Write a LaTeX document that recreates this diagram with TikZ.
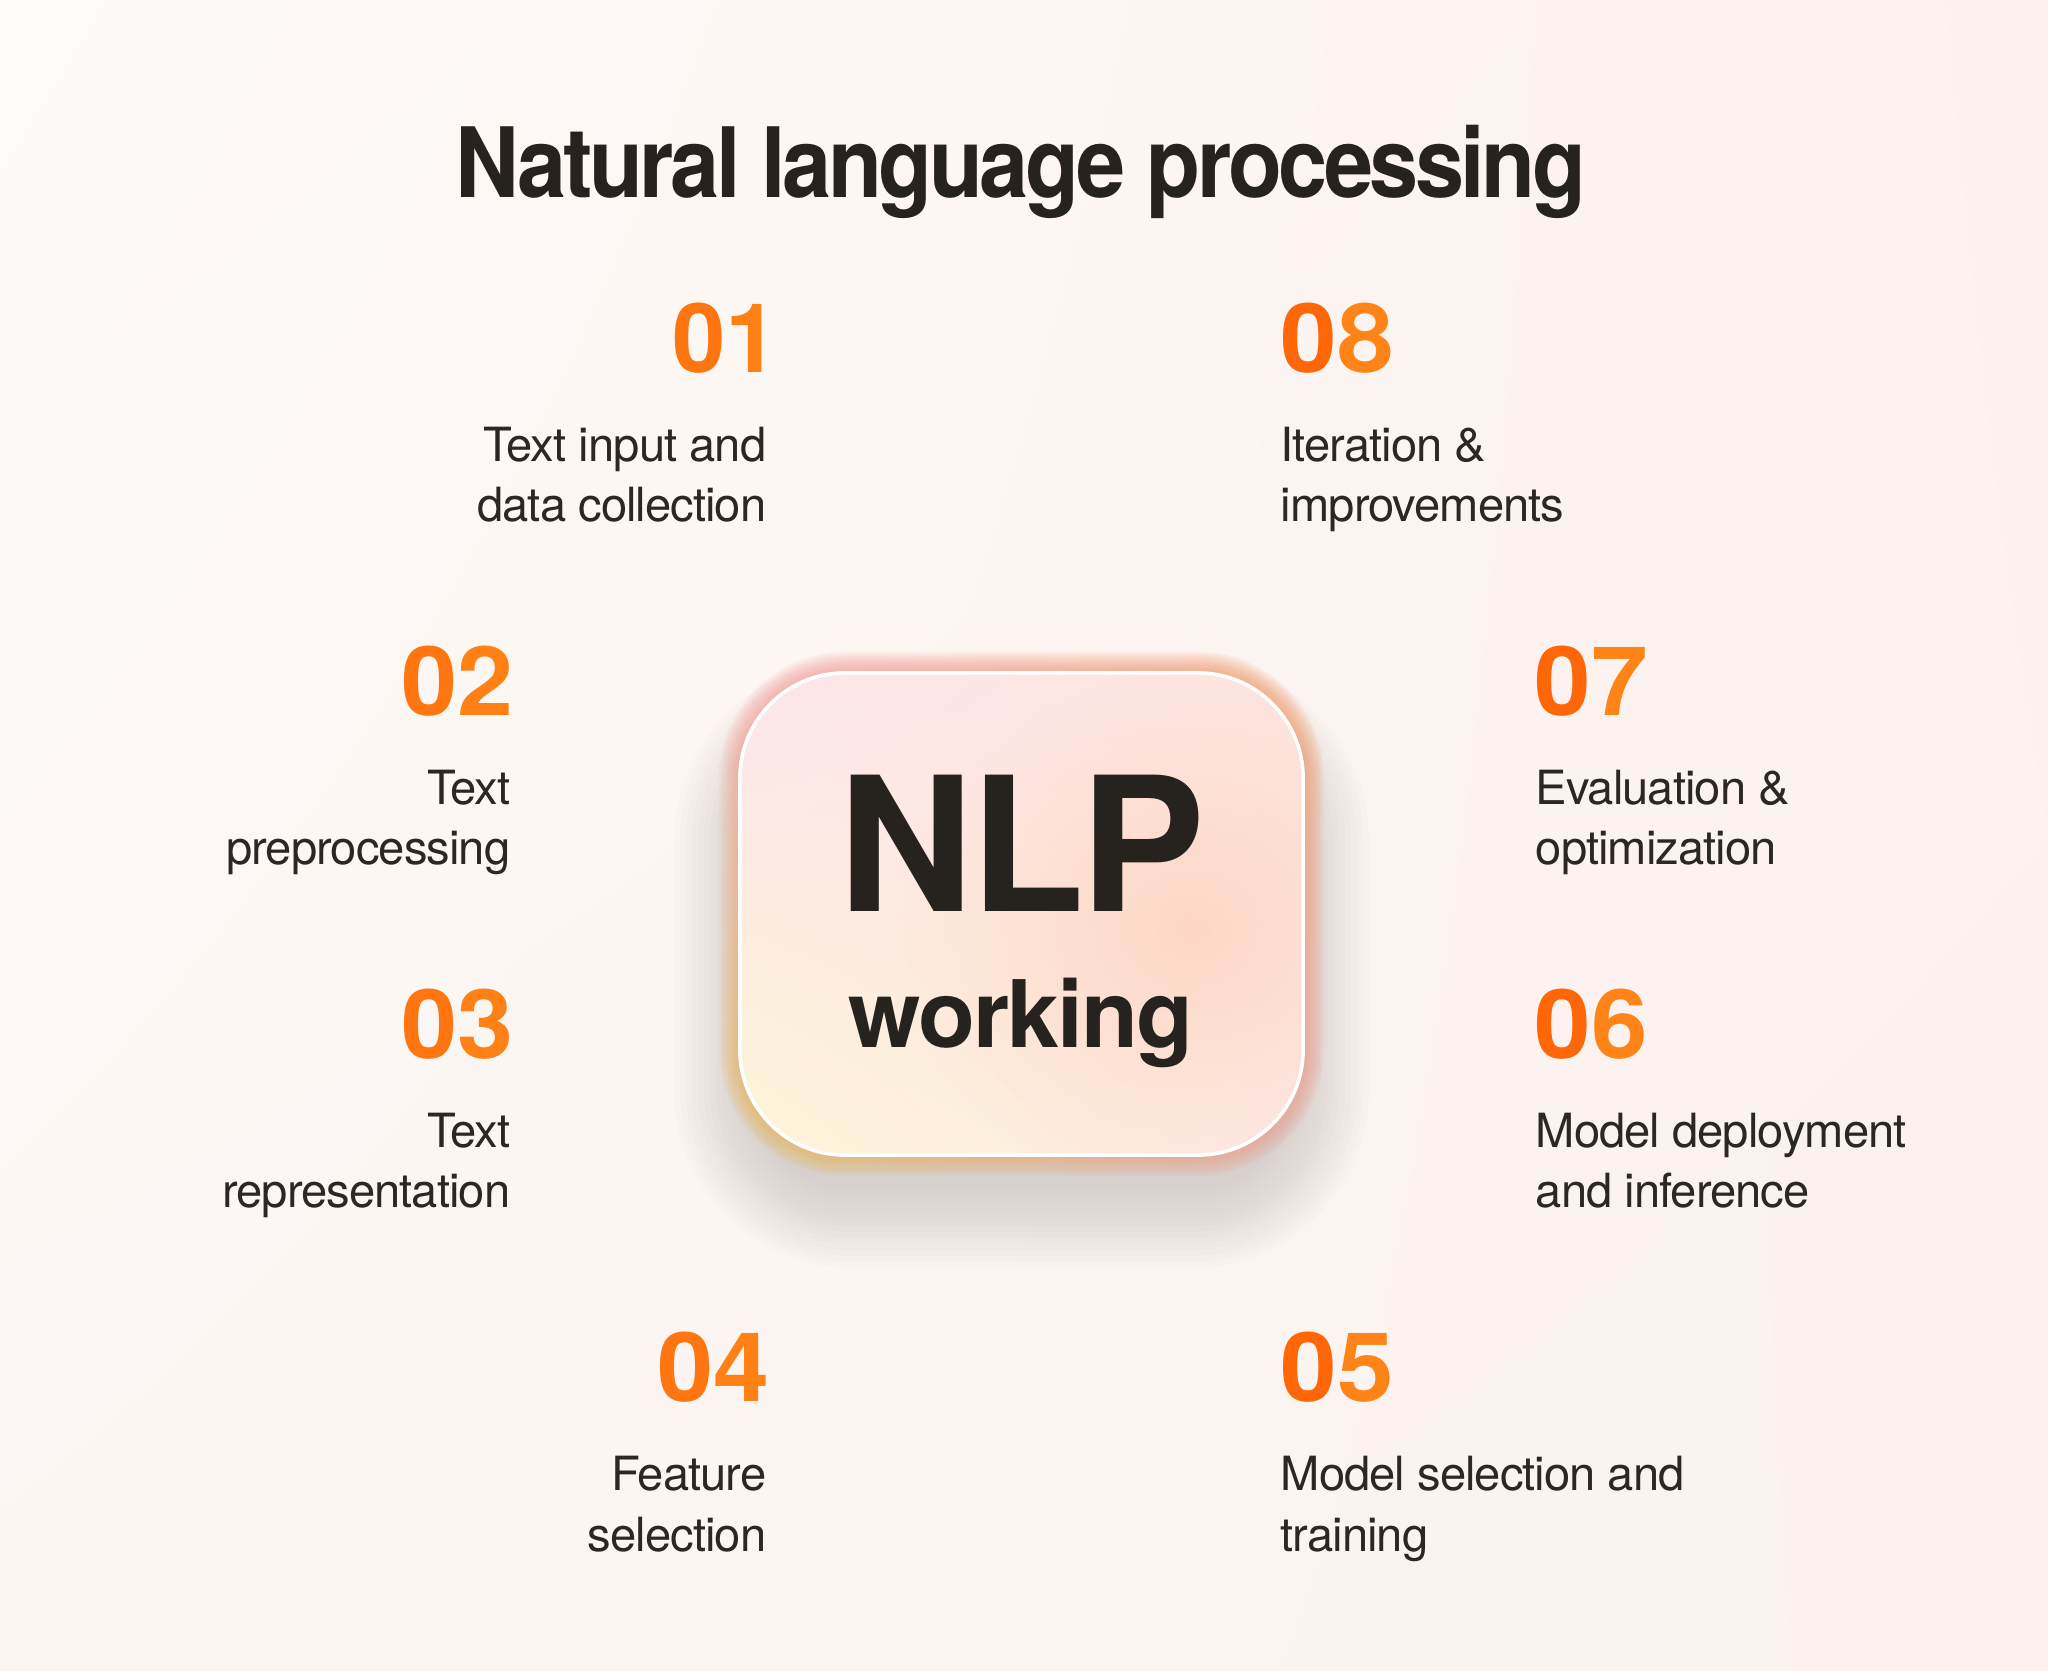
\documentclass[tikz,border=0pt]{standalone}
\usepackage{fontspec}
\setmainfont{TeX Gyre Heros}
\usetikzlibrary{fadings,shadings}
\definecolor{ink}{HTML}{26231F}
\definecolor{bodyink}{HTML}{2B2724}
\definecolor{numA}{HTML}{FF7510}
\definecolor{numB}{HTML}{FF8014}
\definecolor{numC}{HTML}{FF6608}
\definecolor{numD}{HTML}{FF8418}
\definecolor{bgUL}{HTML}{FEFBF8}
\definecolor{bgUR}{HTML}{FCF1EE}
\definecolor{bgLL}{HTML}{FCF6F3}
\definecolor{bgLR}{HTML}{FBF2EF}
\definecolor{glUL}{HTML}{F4A0A8}
\definecolor{glUR}{HTML}{F39A62}
\definecolor{glLL}{HTML}{E9BC50}
\definecolor{glLR}{HTML}{EC9E98}
\definecolor{bxUL}{HTML}{FCE6EA}
\definecolor{bxUR}{HTML}{FDE5DF}
\definecolor{bxLL}{HTML}{FEF4D8}
\definecolor{bxLR}{HTML}{FDE9E6}
\definecolor{peach}{HTML}{FDD5C2}
\definecolor{shadowc}{HTML}{A29E9C}
\tikzfading[name=softdisc, inner color=transparent!0, outer color=transparent!100]
\begin{document}
\begin{tikzpicture}[x=0.01cm,y=-0.01cm,
  titlestyle/.style={inner sep=0, text=ink, font=\fontsize{27.6}{32}\selectfont\bfseries\addfontfeatures{LetterSpace=-4}},
  numstyle/.style={inner sep=0, font=\fontsize{27.3}{30}\selectfont\bfseries},
  bodystyle/.style={inner sep=0, text=bodyink, font=\fontsize{13.4}{17}\selectfont\addfontfeatures{LetterSpace=-2}},
  bigstyle/.style={inner sep=0, text=ink, font=\fontsize{53.2}{56}\selectfont\bfseries\addfontfeatures{LetterSpace=-2}},
  midstyle/.style={inner sep=0, text=ink, font=\fontsize{26.5}{30}\selectfont\bfseries\addfontfeatures{LetterSpace=-2}},
  lnum/.style={numstyle, anchor=base east},
  rnum/.style={numstyle, anchor=base west},
  ltext/.style={bodystyle, anchor=base east},
  rtext/.style={bodystyle, anchor=base west}]
% background
\shade[upper left=bgUL, upper right=bgUR, lower left=bgLL, lower right=bgLR] (0,0) rectangle (2048,1671);
\useasboundingbox (0,0) rectangle (2048,1671);
% drop shadow (mostly below the card)
\foreach \e in {0,6,...,78} {
  \pgfmathsetlengthmacro\rr{(100+\e)*0.28453}
  \fill[shadowc, opacity=0.03, rounded corners=\rr] (752-\e,740-\e) rectangle (1291+\e,1190+\e);
}
% coloured glow
\foreach \e in {1,3,...,21} {
  \pgfmathsetlengthmacro\rr{(105+\e)*0.28453}
  \shade[opacity=0.1, upper left=glUL, upper right=glUR, lower left=glLL, lower right=glLR, rounded corners=\rr] (740-\e,673-\e) rectangle (1303+\e,1155+\e);
}
% box
\pgfmathsetlengthmacro\rb{105*0.28453}
\shade[upper left=bxUL, upper right=bxUR, lower left=bxLL, lower right=bxLR, rounded corners=\rb] (740,673) rectangle (1303,1155);
\begin{scope}
  \clip[rounded corners=\rb] (740,673) rectangle (1303,1155);
  \fill[peach, path fading=softdisc, opacity=0.85] (1190,930) ellipse (300 and 260);
\end{scope}
\node[draw=white, line width=1pt, rounded corners=\rb, minimum width=563*0.2845pt, minimum height=482*0.2845pt, inner sep=0] (box) at (1021.5,914) {};
% centre texts
\node[bigstyle, anchor=base] (nlp) at (1022,912) {NLP};
\node[midstyle, anchor=base] (working) at (1021,1048) {working};
% title
\node[titlestyle, anchor=base] (title) at (1021,198) {\scalebox{0.91}[1]{Natural language processing}};
% left column
\node[lnum] (n01) at (780,373) {\textcolor{numA}{0}\textcolor{numB}{1}};
\node[ltext] (t01a) at (767,462) {Text input and};
\node[ltext] (t01b) at (767,522) {data collection};
\node[lnum] (n02) at (514,716) {\scalebox{1.05}[1]{\textcolor{numA}{0}\textcolor{numB}{2}}};
\node[ltext] (t02a) at (511,805) {Text};
\node[ltext] (t02b) at (511,865) {preprocessing};
\node[lnum] (n03) at (514,1059) {\scalebox{1.05}[1]{\textcolor{numA}{0}\textcolor{numB}{3}}};
\node[ltext] (t03a) at (511,1148) {Text};
\node[ltext] (t03b) at (511,1208) {representation};
\node[lnum] (n04) at (770,1402) {\scalebox{1.05}[1]{\textcolor{numA}{0}\textcolor{numB}{4}}};
\node[ltext] (t04a) at (767,1491) {Feature};
\node[ltext] (t04b) at (767,1551) {selection};
% right column
\node[rnum] (n08) at (1280,373) {\scalebox{1.06}[1]{\textcolor{numC}{0}\textcolor{numD}{8}}};
\node[rtext] (t08a) at (1280,462) {Iteration \&};
\node[rtext] (t08b) at (1280,522) {improvements};
\node[rnum] (n07) at (1534,716) {\scalebox{1.06}[1]{\textcolor{numC}{0}\textcolor{numD}{7}}};
\node[rtext] (t07a) at (1535,805) {Evaluation \&};
\node[rtext] (t07b) at (1535,865) {optimization};
\node[rnum] (n06) at (1534,1059) {\scalebox{1.06}[1]{\textcolor{numC}{0}\textcolor{numD}{6}}};
\node[rtext] (t06a) at (1535,1148) {Model deployment};
\node[rtext] (t06b) at (1535,1208) {and inference};
\node[rnum] (n05) at (1280,1402) {\scalebox{1.06}[1]{\textcolor{numC}{0}\textcolor{numD}{5}}};
\node[rtext] (t05a) at (1280,1491) {Model selection and};
\node[rtext] (t05b) at (1280,1551) {training};
\end{tikzpicture}
\end{document}
